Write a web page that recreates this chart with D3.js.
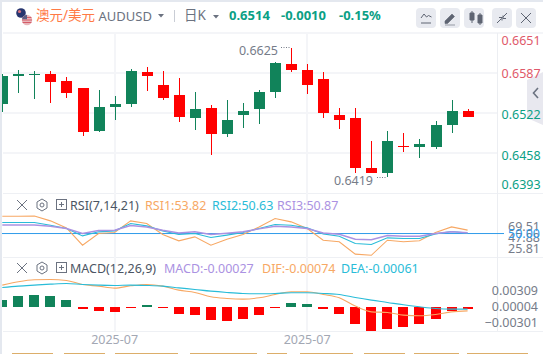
<!DOCTYPE html>
<html>
<head>
<meta charset="utf-8">
<script src="https://cdn.jsdelivr.net/npm/d3@7"></script>
<style>
html,body{margin:0;padding:0;background:#fff;overflow:hidden;}
svg{display:block;}
text{font-family:"Noto Sans","Noto Sans CJK SC",sans-serif;}
.axis .domain{display:none;}
.axis text{font-size:12.5px;}
</style>
</head>
<body>
<div id="chart"></div>
<script>
/* AUD/USD daily candles with RSI and MACD panes. */
var opens =[0.65370,0.65821,0.65838,0.65854,0.65741,0.65628,0.64934,0.65321,0.65370,0.65886,0.65676,0.65515,0.65144,0.65305,0.64886,0.65192,0.65289,0.65563,0.66015,0.65918,0.65773,0.65192,0.65144,0.64338,0.64257,0.64692,0.64676,0.64676,0.65031,0.65257];
var closes=[0.65821,0.65854,0.65854,0.65725,0.65547,0.64918,0.65321,0.65370,0.65902,0.65821,0.65467,0.65160,0.65289,0.64886,0.65112,0.65257,0.65563,0.66031,0.65918,0.65676,0.65225,0.65112,0.64338,0.64257,0.64773,0.64676,0.64725,0.65031,0.65257,0.65160];
var highs =[0.65854,0.65918,0.65902,0.65902,0.65805,0.65628,0.65596,0.65499,0.65934,0.65967,0.65902,0.65789,0.65563,0.65354,0.65434,0.65386,0.65596,0.66047,0.66273,0.66015,0.65886,0.65305,0.65305,0.64773,0.64934,0.64902,0.64805,0.65096,0.65434,0.65289];
var lows  =[0.65241,0.65547,0.65450,0.65386,0.65467,0.64854,0.64918,0.65112,0.65321,0.65580,0.65434,0.65080,0.64950,0.64547,0.64838,0.64983,0.65047,0.65467,0.65886,0.65531,0.65144,0.64967,0.64257,0.64257,0.64193,0.64596,0.64499,0.64644,0.64902,0.65160];

var rsi1=[69.2,69.2,69.51,64.1,56.3,37.0,50.0,51.1,64.1,61.1,48.9,41.9,46.3,37.0,43.7,48.9,57.4,66.7,63.0,55.6,42.6,40.8,27.1,25.81,42.6,40.8,41.9,51.1,57.4,53.82];
var rsi2=[62.2,62.2,62.2,59.3,55.6,47.4,51.9,53.0,61.1,58.5,53.0,48.9,50.0,45.6,48.2,51.1,55.6,60.0,59.3,56.3,49.6,47.0,38.9,37.8,45.2,44.5,44.5,49.6,52.2,50.63];
var rsi3=[59.6,59.6,59.6,58.1,55.6,50.0,53.3,53.7,58.9,57.4,53.7,50.7,51.9,48.9,50.4,51.9,55.2,58.1,57.4,55.6,50.7,49.3,43.7,43.0,47.8,47.0,47.0,50.0,51.9,50.87];

var macdBars=[0.00098,0.00157,0.00172,0.00157,0.00098,-0.00034,-0.00059,-0.00074,-0.00015,0.00025,-0.00015,-0.00103,-0.00118,-0.00191,-0.00206,-0.00176,-0.00118,-0.00015,0.00054,0.00039,-0.00029,-0.00103,-0.00250,-0.00353,-0.00323,-0.00294,-0.00250,-0.00176,-0.00059,-0.00029];
var dif=[0.00319,0.00368,0.00397,0.00402,0.00387,0.00328,0.00304,0.00274,0.00309,0.00328,0.00304,0.00245,0.00211,0.00147,0.00123,0.00113,0.00132,0.00181,0.00221,0.00221,0.00181,0.00132,0.00010,-0.00074,-0.00083,-0.00123,-0.00132,-0.00113,-0.00074,-0.00060];
var dea=[0.00284,0.00304,0.00319,0.00333,0.00343,0.00328,0.00319,0.00314,0.00319,0.00314,0.00304,0.00279,0.00255,0.00230,0.00211,0.00196,0.00191,0.00196,0.00206,0.00206,0.00196,0.00181,0.00137,0.00098,0.00064,0.00029,0.00000,-0.00025,-0.00034,-0.00034];

var priceTicks=[0.6651,0.6587,0.6522,0.6458,0.6393];
var rsiTicks=[69.51,47.88,25.81];
var macdTicks=[0.00309,0.00004,-0.00301];
var dateTicks=[7,19];
var dateLabels=["2025-07","2025-07"];

var W=543,H=354;
var red="#ff0000",green="#11835a",upText="#0ba085",downText="#e0596a";
var gridCol="#f4f5f8",grayText="#767c89";
var orange="#f7a864",cyan="#29bcd8",purple="#ab92e2";

var svg=d3.select("#chart").append("svg").attr("width",W).attr("height",H);

var x=d3.scaleLinear().domain([0,opens.length-1]).range([2.3,467.6]);
var yPrice=d3.scaleLinear().domain([0.6587,0.6458]).range([73,153]);
// the first and last price labels sit pinned inside the pane
var yPriceLabel=d3.scaleLinear().domain([0.6651,0.6587,0.6458,0.6393]).range([40,73,155,184.5]);
var yRsi=d3.scaleLinear().domain([25.81,69.51]).range([255.3,216]);
var yRsiLabel=d3.scaleLinear().domain([25.81,69.51]).range([248,226.5]);
var yMacd=d3.scaleLinear().domain([0,0.001]).range([306.8,300]);
var yMacdLabel=d3.scaleLinear().domain([-0.00301,0.00309]).range([322.5,290.5]);

// grid
var idx=d3.range(opens.length);
var grid=svg.append("g").attr("stroke",gridCol).attr("shape-rendering","crispEdges");
[0.6587,0.6522,0.6458].forEach(function(p){
    var gy=Math.round(yPrice(p));
    grid.append("line").attr("x1",3).attr("x2",497).attr("y1",gy).attr("y2",gy).attr("stroke-width",2);
});
[33,193,257,331].forEach(function(gy){
    grid.append("line").attr("x1",3).attr("x2",W).attr("y1",gy).attr("y2",gy).attr("stroke-width",gy==33?2:1).attr("stroke",gy==33?gridCol:"#eef0f4");
});
dateTicks.forEach(function(i){
    grid.append("line").attr("x1",Math.round(x(i))).attr("x2",Math.round(x(i))).attr("y1",33).attr("y2",331).attr("stroke-width",2);
});
grid.append("line").attr("x1",497.5).attr("x2",497.5).attr("y1",33).attr("y2",331).attr("stroke","#eceef2");

// candles
var candles=svg.append("g").attr("shape-rendering","crispEdges");
candles.selectAll("line").data(idx).enter().append("line")
    .attr("x1",function(i){return Math.round(x(i))+0.5;}).attr("x2",function(i){return Math.round(x(i))+0.5;})
    .attr("y1",function(i){return yPrice(highs[i]);}).attr("y2",function(i){return yPrice(lows[i]);})
    .attr("stroke",function(i){return closes[i]>=opens[i]?green:red;});
candles.selectAll("rect").data(idx).enter().append("rect")
    .attr("x",function(i){return Math.round(x(i))-5;}).attr("width",11)
    .attr("y",function(i){return yPrice(Math.max(opens[i],closes[i]));})
    .attr("height",function(i){return Math.max(1,Math.abs(yPrice(opens[i])-yPrice(closes[i])));})
    .attr("fill",function(i){return closes[i]>=opens[i]?green:red;});

// high and low notes
svg.append("text").attr("x",278).attr("y",55).attr("text-anchor","end").attr("font-size",12.5).attr("fill",grayText).text("0.6625");
svg.append("line").attr("x1",281).attr("x2",291).attr("y1",47.5).attr("y2",47.5).attr("stroke",grayText).attr("stroke-dasharray","1 1.5");
svg.append("text").attr("x",373).attr("y",184.5).attr("text-anchor","end").attr("font-size",12.5).attr("fill",grayText).text("0.6419");
svg.append("line").attr("x1",377).attr("x2",387).attr("y1",177.5).attr("y2",177.5).attr("stroke",grayText).attr("stroke-dasharray","1 1.5");

// side tab, under the price labels
svg.append("path").attr("d","M543 72L527 80V118L543 125Z").attr("fill","#e8e8ef");
svg.append("path").attr("d","M538 88l-4.5 5 4.5 5").attr("fill","none").attr("stroke","#6b7280").attr("stroke-width",1.6);

// price axis
var priceAxis=svg.append("g").attr("class","axis").attr("transform","translate(495,0)")
    .call(d3.axisRight(yPriceLabel).tickValues(priceTicks).tickSize(0).tickFormat(d3.format(".4f")));
priceAxis.selectAll("text").attr("x",6.5)
    .attr("fill",function(p){return p>0.6552?downText:upText;});

// RSI pane
var rsiLine=d3.line().x(function(d,i){return x(i);}).y(function(d){return yRsi(d);});
svg.append("line").attr("x1",2).attr("x2",504).attr("y1",yRsi(50)).attr("y2",yRsi(50)).attr("stroke","#2f9bea").attr("stroke-width",1);
[[rsi1,orange,1.1],[rsi2,cyan,1.1],[rsi3,purple,1.5]].forEach(function(s){
    svg.append("path").attr("d",rsiLine(s[0])).attr("fill","none").attr("stroke",s[1]).attr("stroke-width",s[2]);
});
var rsiAxis=svg.append("g").attr("class","axis").attr("transform","translate(502,0)")
    .call(d3.axisRight(yRsiLabel).tickValues(rsiTicks).tickSize(0).tickFormat(d3.format(".2f")));
rsiAxis.selectAll("text").attr("fill",grayText).attr("x",6);
svg.append("text").attr("x",508).attr("y",yRsi(50)).attr("dy","0.35em").attr("font-size",12.5).attr("fill","#2f9bea").text("50.00");

// MACD pane
var bars=svg.append("g").attr("shape-rendering","crispEdges");
bars.selectAll("rect").data(macdBars).enter().append("rect")
    .attr("x",function(d,i){return Math.round(x(i))-5;}).attr("width",10)
    .attr("y",function(d){return d>=0?yMacd(d):yMacd(0);})
    .attr("height",function(d){return Math.abs(yMacd(d)-yMacd(0));})
    .attr("fill",function(d){return d>=0?green:red;});
var macdLine=d3.line().curve(d3.curveMonotoneX).x(function(d,i){return x(i);}).y(function(d){return yMacd(d);});
svg.append("path").attr("d",macdLine(dif)).attr("fill","none").attr("stroke",orange).attr("stroke-width",1.1);
svg.append("path").attr("d",macdLine(dea)).attr("fill","none").attr("stroke",cyan).attr("stroke-width",1.1);
var macdAxis=svg.append("g").attr("class","axis").attr("transform","translate(532,0)")
    .call(d3.axisLeft(yMacdLabel).tickValues(macdTicks).tickSize(0).tickFormat(d3.format(".5f")));
macdAxis.selectAll("text").attr("fill",grayText).attr("x",6);

// date labels
svg.selectAll("text.date").data(dateTicks).enter().append("text").attr("class","date")
    .attr("x",function(i){return x(i);}).attr("y",343.5).attr("text-anchor","middle")
    .attr("font-size",12.5).attr("fill","#a3a8b4").text(function(d,i){return dateLabels[i];});

// page edges
svg.append("rect").attr("width",2).attr("height",H).attr("fill","#e4e8ef");
svg.append("rect").attr("width",W).attr("height",2).attr("fill","#e4e8ef");
// cut-off tabs at the foot of the window
[[12,53],[64,105],[115,178],[190,257],[267,287],[300,353],[364,405],[414,459],[467,528]].forEach(function(s){
    svg.append("rect").attr("x",s[0]).attr("y",353).attr("width",s[1]-s[0]).attr("height",1).attr("fill","#dcae6a");
});

// header
var txt=function(s,tx,ty,size,col,weight,anchor){
    return svg.append("text").attr("x",tx).attr("y",ty).attr("font-size",size).attr("fill",col)
        .attr("font-weight",weight||400).attr("text-anchor",anchor||"start").text(s);
};
svg.append("circle").attr("cx",21).attr("cy",13).attr("r",4.8).attr("fill","#27356f");
svg.append("circle").attr("cx",19.5).attr("cy",11.5).attr("r",1.6).attr("fill","#d9737f");
svg.append("circle").attr("cx",27).attr("cy",20).attr("r",5.2).attr("fill","#e8b7bb");
svg.append("path").attr("d","M22.6 17.5h8.8M22 20h10M22.6 22.5h8.8").attr("stroke","#d55c68").attr("fill","none");
svg.append("path").attr("d","M22.6 17.5a5.2 5.2 0 0 1 4.4-2.7v4.4h-5z").attr("fill","#5c5f85");
txt("澳元/美元",36,20,13.5,"#ff7a45");
txt("AUDUSD",98.5,21,13,"#6b7280");
svg.append("path").attr("d","M158 14h6l-3 3.5z").attr("fill","#6b7280");
svg.append("line").attr("x1",174.5).attr("x2",174.5).attr("y1",10).attr("y2",22).attr("stroke","#c9cdd5");
txt("日K",184,20,13.5,"#6b7280");
svg.append("path").attr("d","M213 15h6l-3 3.5z").attr("fill","#6b7280");
txt("0.6514",229,20,13,upText,700);
txt("-0.0010",281,20,13,upText,700);
txt("-0.15%",339,20,13,upText,700);

// toolbar buttons
var btnX=[416,440,464,492,516];
var btnG=svg.append("g");
btnX.forEach(function(bx){
    btnG.append("rect").attr("x",bx).attr("y",8).attr("width",20).attr("height",20).attr("rx",4).attr("fill","#e8eaf0");
});
var ic="#5e6472";
svg.append("path").attr("d","M421 18l3-4 2.5 3 2-1.5 3 1.5M421 23h10").attr("fill","none").attr("stroke",ic);
svg.append("path").attr("d","M445 21l7-7 2.5 2.5-7 7h-2.5zM445 25h10").attr("fill",ic).attr("stroke",ic).attr("stroke-width",0.6);
svg.append("path").attr("d","M470 13h4v7h-4zM478 15h4v8h-4zM472 11v12M480 13v12").attr("fill",ic).attr("stroke",ic);
svg.append("path").attr("d","M497 23l4.5-4.5M507 13l-4.5 4.5M499 17.5h3v3M503 18.5v-3M503 18.5h3").attr("fill","none").attr("stroke",ic);
svg.append("path").attr("d","M521 13l10 10M531 13l-10 10").attr("fill","none").attr("stroke",ic);

// pane headers
var paneHead=function(ty,label){
    svg.append("path").attr("d","M17 "+(ty-5)+"l10 10M27 "+(ty-5)+"l-10 10").attr("fill","none").attr("stroke","#6b7280");
    svg.append("path").attr("d","M42 "+(ty-6)+"l5 3v6l-5 3-5-3v-6z").attr("fill","none").attr("stroke","#6b7280");
    svg.append("circle").attr("cx",42).attr("cy",ty).attr("r",2).attr("fill","none").attr("stroke","#6b7280");
    svg.append("rect").attr("x",56.5).attr("y",ty-5.5).attr("width",10).attr("height",10).attr("fill","none").attr("stroke","#6b7280");
    svg.append("path").attr("d","M59 "+(ty-0.5)+"h5M61.5 "+(ty-3)+"v5").attr("fill","none").attr("stroke","#6b7280");
    txt(label,70,ty+4.5,12.5,"#4b5563");
};
paneHead(205,"RSI(7,14,21)");
txt("RSI1:53.82",145,209.5,12.5,orange);
txt("RSI2:50.63",212,209.5,12.5,cyan);
txt("RSI3:50.87",277,209.5,12.5,purple);
paneHead(268,"MACD(12,26,9)");
txt("MACD:-0.00027",164,272.5,12.5,purple);
txt("DIF:-0.00074",262,272.5,12.5,orange);
txt("DEA:-0.00061",341,272.5,12.5,cyan);
</script>
</body>
</html>
